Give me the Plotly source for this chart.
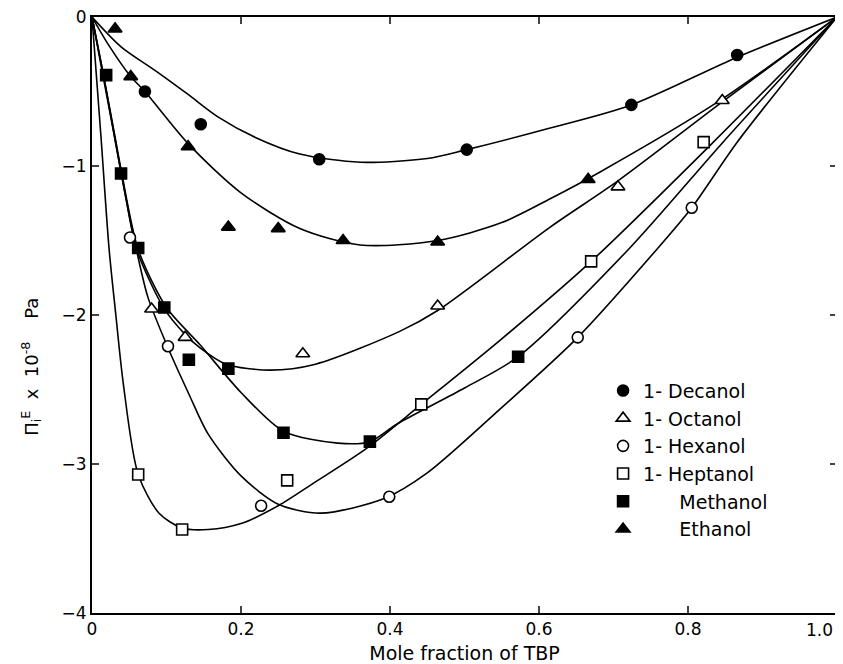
import plotly.graph_objects as go

# ---------------- data ----------------
# measured points
decanol_x = [0.071, 0.146, 0.305, 0.503, 0.724, 0.866]
decanol_y = [-0.50, -0.72, -0.955, -0.89, -0.59, -0.255]

octanol_x = [0.080, 0.125, 0.283, 0.464, 0.706, 0.846]
octanol_y = [-1.96, -2.15, -2.26, -1.94, -1.14, -0.56]

hexanol_x = [0.051, 0.102, 0.227, 0.399, 0.652, 0.805]
hexanol_y = [-1.48, -2.21, -3.28, -3.22, -2.15, -1.28]

heptanol_x = [0.062, 0.121, 0.262, 0.442, 0.670, 0.821]
heptanol_y = [-3.07, -3.44, -3.11, -2.60, -1.64, -0.84]

methanol_x = [0.019, 0.039, 0.062, 0.097, 0.130, 0.183, 0.257, 0.373, 0.572]
methanol_y = [-0.39, -1.05, -1.55, -1.95, -2.30, -2.36, -2.79, -2.85, -2.28]

ethanol_x = [0.031, 0.052, 0.129, 0.183, 0.250, 0.337, 0.464, 0.666]
ethanol_y = [-0.08, -0.40, -0.87, -1.41, -1.42, -1.50, -1.51, -1.09]

# smoothed curves
decanol_cx = [0, 0.039, 0.085, 0.129, 0.169, 0.22, 0.279, 0.36, 0.45, 0.503, 0.615, 0.724, 0.866, 1.0]
decanol_cy = [0, -0.20, -0.36, -0.52, -0.67, -0.81, -0.92, -0.975, -0.95, -0.89, -0.745, -0.59, -0.27, 0]

ethanol_cx = [0, 0.02, 0.052, 0.071, 0.129, 0.2, 0.279, 0.36, 0.464, 0.55, 0.615, 0.682, 0.84, 1.0]
ethanol_cy = [0, -0.17, -0.40, -0.50, -0.85, -1.18, -1.42, -1.53, -1.50, -1.38, -1.22, -1.04, -0.57, 0]

octanol_cx = [0, 0.015, 0.032, 0.045, 0.06, 0.096, 0.125, 0.145, 0.18, 0.239, 0.3, 0.413, 0.464, 0.615, 0.706, 0.846, 1.0]
octanol_cy = [0, -0.38, -0.85, -1.2, -1.56, -1.95, -2.13, -2.22, -2.33, -2.37, -2.33, -2.11, -1.97, -1.41, -1.10, -0.57, 0]

methanol_cx = [0, 0.015, 0.03, 0.04, 0.062, 0.1, 0.145, 0.2, 0.257, 0.33, 0.373, 0.41, 0.5, 0.572, 0.72, 0.847, 1.0]
methanol_cy = [0, -0.38, -0.78, -1.05, -1.56, -1.95, -2.2, -2.52, -2.78, -2.86, -2.85, -2.73, -2.49, -2.28, -1.56, -0.84, 0]

hexanol_cx = [0, 0.015, 0.03, 0.04, 0.05, 0.06, 0.075, 0.102, 0.13, 0.156, 0.2, 0.25, 0.307, 0.393, 0.45, 0.548, 0.652, 0.758, 0.805, 0.866, 1.0]
hexanol_cy = [0, -0.40, -0.80, -1.07, -1.33, -1.57, -1.88, -2.22, -2.53, -2.80, -3.08, -3.27, -3.33, -3.23, -3.06, -2.63, -2.15, -1.56, -1.28, -0.84, 0]

heptanol_cx = [0, 0.012, 0.023, 0.032, 0.042, 0.062, 0.09, 0.121, 0.156, 0.2, 0.25, 0.3, 0.37, 0.442, 0.55, 0.67, 0.834, 1.0]
heptanol_cy = [0, -0.80, -1.56, -2.0, -2.46, -3.07, -3.33, -3.43, -3.44, -3.40, -3.28, -3.12, -2.89, -2.60, -2.16, -1.64, -0.84, 0]

x_tickvals = [0, 0.2, 0.4, 0.6, 0.8, 1.0]
x_ticktext = ["0", "0.2", "0.4", "0.6", "0.8", ""]
last_x_label = "1.0"
y_tickvals = [0, -1, -2, -3, -4]
y_ticktext = ["0", "\u22121", "\u22122", "\u22123", "\u22124"]

NB = "\u00a0"
series = [
    ("1- Decanol", decanol_x, decanol_y, decanol_cx, decanol_cy, "circle", "black"),
    ("1- Octanol", octanol_x, octanol_y, octanol_cx, octanol_cy, "triangle-up", "white"),
    ("1- Hexanol", hexanol_x, hexanol_y, hexanol_cx, hexanol_cy, "circle", "white"),
    ("1- Heptanol", heptanol_x, heptanol_y, heptanol_cx, heptanol_cy, "square", "white"),
    (NB * 6 + "Methanol", methanol_x, methanol_y, methanol_cx, methanol_cy, "square", "black"),
    (NB * 6 + "Ethanol", ethanol_x, ethanol_y, ethanol_cx, ethanol_cy, "triangle-up", "black"),
]

fig = go.Figure()
for name, px_, py_, cx, cy, sym, fill in series:
    fig.add_trace(go.Scatter(x=cx, y=cy, mode="lines", line=dict(color="black", width=1.6, shape="spline", smoothing=0.8),
                             showlegend=False, hoverinfo="skip"))
for i, (name, px_, py_, cx, cy, sym, fill) in enumerate(series):
    size = 11 if sym != "triangle-up" else 12
    fig.add_trace(go.Scatter(x=px_, y=py_, mode="markers", name=name, legendgroup="g%d" % i,
                             marker=dict(symbol=sym, size=size, color=fill, line=dict(color="black", width=1.6))))

font_fam = "DejaVu Sans, Liberation Sans, sans-serif"
fig.update_layout(
    width=835, height=656,
    margin=dict(l=84, r=6, t=9, b=51, autoexpand=False),
    paper_bgcolor="white", plot_bgcolor="white",
    font=dict(family=font_fam, color="black", size=16),
    legend=dict(x=0.686, y=0.405, xanchor="left", yanchor="top", bgcolor="rgba(0,0,0,0)",
                font=dict(size=19), tracegroupgap=0, traceorder="grouped"),
    xaxis=dict(range=[0, 1.0], tickvals=x_tickvals, ticktext=x_ticktext, ticks="inside", ticklen=7,
               tickwidth=1.5, showline=True, linecolor="black", linewidth=2, mirror="ticks",
               showgrid=False, zeroline=False, tickfont=dict(size=17), automargin=False,
               title=dict(text="Mole fraction of TBP", font=dict(size=19), standoff=12)),
    yaxis=dict(range=[-4, 0], tickvals=y_tickvals, ticktext=y_ticktext, ticks="inside", ticklen=7,
               tickwidth=1.5, showline=True, linecolor="black", linewidth=2, mirror="ticks",
               showgrid=False, zeroline=False, tickfont=dict(size=17), ticklabeloverflow="allow",
               automargin=False),
    annotations=[
        dict(text="\u03a0<sub>i</sub><sup>E</sup>" + NB * 2 + "x" + NB * 2 + "10<sup>-8</sup>" + NB * 4 + "Pa",
             textangle=-90, xref="paper", yref="paper", x=-0.082, y=0.413,
             xanchor="center", yanchor="middle", showarrow=False, font=dict(size=18)),
        dict(text=last_x_label, xref="x", yref="paper", x=1.0, y=0, xanchor="right", yanchor="top",
             xshift=-2, yshift=-5, showarrow=False, font=dict(size=17)),
    ],
)

fig.write_html("out.html")
